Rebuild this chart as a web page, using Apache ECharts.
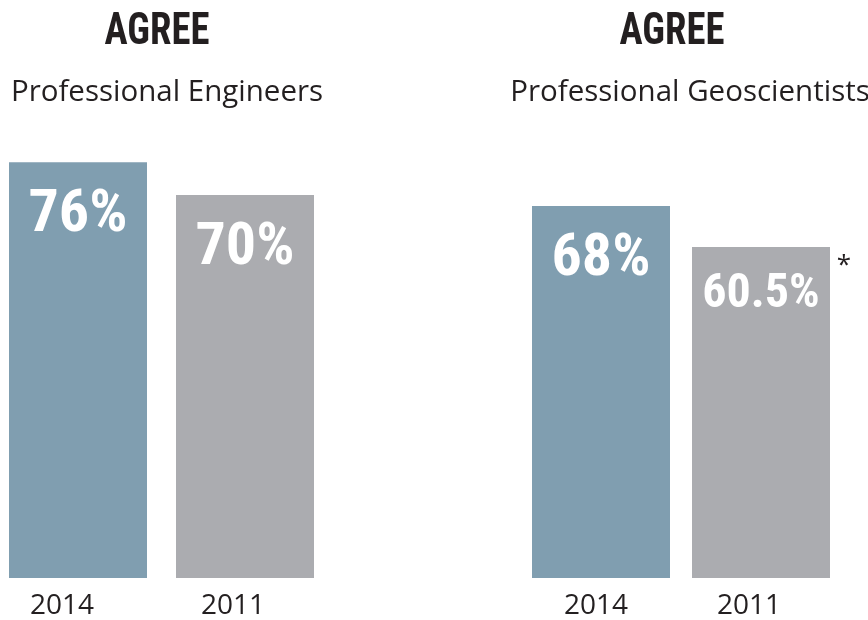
<!DOCTYPE html>
<html>
<head>
<meta charset="utf-8">
<script src="https://cdn.jsdelivr.net/npm/echarts@6/dist/echarts.min.js"></script>
<style>
  html, body { margin: 0; padding: 0; background: #fff; }
  #chart { width: 868px; height: 620px; }
</style>
</head>
<body>
<div id="chart"></div>
<script>
// data
const years = ['2014', '2011']
const engineers = [76, 70]
const geoscientists = [68, 60.5]
const panelTitles = ['AGREE', 'AGREE']
const panelSubtitles = ['Professional Engineers', 'Professional Geoscientists']

const colors = ['#809eb0', '#abacb0']
const condFont = '"Roboto Condensed", "DejaVu Sans Condensed", "DejaVu Sans", sans-serif'
const plainFont = '"Open Sans", "Noto Sans", sans-serif'

// small shifts of the year labels, they are not centred under the bars
const yearShift = [[-16, -12], [-5, -12]]
// the 60.5% label is set smaller in the original
const labelSize = [[60, 60], [60, 48]]

function xAxisFor(gridIndex) {
  return {
    type: 'category',
    gridIndex: gridIndex,
    boundaryGap: false,
    data: years.map((y, i) => {
      let s = yearShift[gridIndex][i]
      return { value: y, textStyle: { padding: [0, -2 * s, 0, 0] } }
    }),
    axisLine: { show: false },
    axisTick: { show: false },
    axisLabel: {
      margin: 14,
      fontSize: 28,
      fontFamily: plainFont,
      color: '#231f20'
    }
  }
}

function yAxisFor(gridIndex) {
  return {
    type: 'value',
    gridIndex: gridIndex,
    min: 0,
    max: 100,
    show: false
  }
}

function seriesFor(gridIndex, values) {
  return {
    type: 'bar',
    xAxisIndex: gridIndex,
    yAxisIndex: gridIndex,
    barWidth: 138,
    data: values.map((v, i) => ({
      value: v,
      itemStyle: { color: colors[i] },
      label: { fontSize: labelSize[gridIndex][i] }
    })),
    label: {
      show: true,
      position: 'insideTop',
      distance: 24,
      formatter: '{c}%',
      color: '#fff',
      fontSize: 60,
      fontStyle: 'condensed',
      fontWeight: 'bold',
      fontFamily: condFont
    },
    silent: true
  }
}

function titleText(x, text) {
  return {
    type: 'text', x: x, y: 10, scaleX: 0.86,
    style: { text: text, textAlign: 'center', font: 'condensed bold 45px ' + condFont, fill: '#231f20' }
  }
}

let myChart = echarts.init(document.getElementById('chart'))
let option = {
  animation: false,
  backgroundColor: '#fff',
  grid: [
    { left: 78, width: 167, top: 31, bottom: 41 },
    { left: 601, width: 160, top: 31, bottom: 41 }
  ],
  xAxis: [xAxisFor(0), xAxisFor(1)],
  yAxis: [yAxisFor(0), yAxisFor(1)],
  series: [seriesFor(0, engineers), seriesFor(1, geoscientists)],
  graphic: [
    titleText(157, panelTitles[0]),
    titleText(672, panelTitles[1]),
    {
      type: 'text', x: 167, y: 78,
      style: { text: panelSubtitles[0], textAlign: 'center', font: '29.5px ' + plainFont, fill: '#231f20' }
    },
    {
      type: 'text', x: 690, y: 78,
      style: { text: panelSubtitles[1], textAlign: 'center', font: '29.5px ' + plainFont, fill: '#231f20' }
    },
    {
      type: 'text', x: 844, y: 253,
      style: { text: '*', textAlign: 'center', font: '26px ' + plainFont, fill: '#231f20' }
    }
  ]
}
myChart.setOption(option)
</script>
</body>
</html>
